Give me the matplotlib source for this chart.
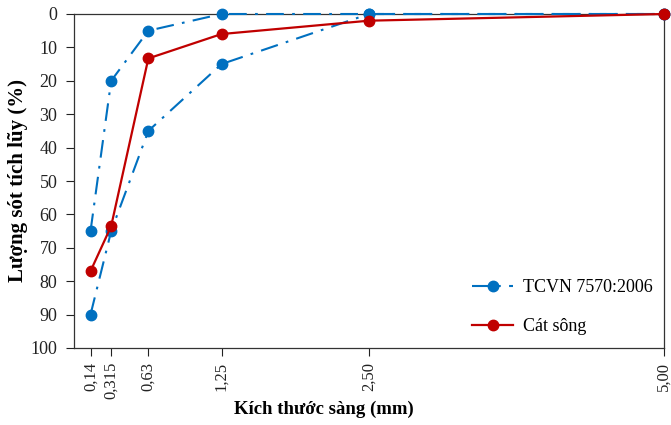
import matplotlib
matplotlib.use("Agg")
import matplotlib.pyplot as plt
from matplotlib.ticker import FixedLocator, FixedFormatter

sieve = [0.14, 0.315, 0.63, 1.25, 2.50, 5.00]
sieve_labels = ["0,14", "0,315", "0,63", "1,25", "2,50", "5,00"]
tcvn_upper = [65, 20, 5, 0, 0, 0]
tcvn_lower = [90, 65, 35, 15, 0, 0]
cat_song = [77, 63.5, 13.3, 6, 2, 0]

plt.rcParams['font.family'] = ['Liberation Serif', 'DejaVu Serif']

fig = plt.figure(figsize=(6.71, 4.25), dpi=100)
ax = fig.add_axes([74/671, 1-348/425, (664-74)/671, (348-14)/425])

blue = '#0070C0'
red = '#C00000'
dashdot = (0, (8.5, 4, 1.3, 4))
ax.plot(sieve, tcvn_upper, color=blue, ls=dashdot, lw=1.5, marker='o', ms=7.5,
        label='TCVN 7570:2006', clip_on=False, zorder=3)
ax.plot(sieve, tcvn_lower, color=blue, ls=dashdot, lw=1.5, marker='o', ms=7.5,
        clip_on=False, zorder=3)
ax.plot(sieve, cat_song, color=red, ls='-', lw=1.6, marker='o', ms=7.5,
        label='Cát sông', clip_on=False, zorder=4)

ax.set_xlim(0, 5)
ax.set_ylim(100, 0)
ax.xaxis.set_major_locator(FixedLocator(sieve))
ax.xaxis.set_major_formatter(FixedFormatter(sieve_labels))
ax.set_yticks(range(0, 101, 10))
ax.tick_params(axis='x', rotation=90, labelsize=12, direction='out', length=6, width=0.8, colors='#222222', pad=4)
ax.tick_params(axis='y', labelsize=13, direction='out', length=6, width=0.8, colors='#222222', pad=6)
for s in ax.spines.values():
    s.set_color('#333333')
    s.set_linewidth(0.9)

ax.set_xlabel('Kích thước sàng (mm)', fontsize=13.5, fontweight='bold',
              labelpad=1, x=(324-74)/590)
ax.set_ylabel('Lượng sót tích lũy (%)', fontsize=15, fontweight='bold', labelpad=2)

leg = ax.legend(loc='lower right', bbox_to_anchor=(1.0, 0.005), frameon=False,
                fontsize=13, handlelength=2.3, handletextpad=0.55,
                labelspacing=1.25, borderpad=0.1)

fig.savefig('out.png', dpi=100)
